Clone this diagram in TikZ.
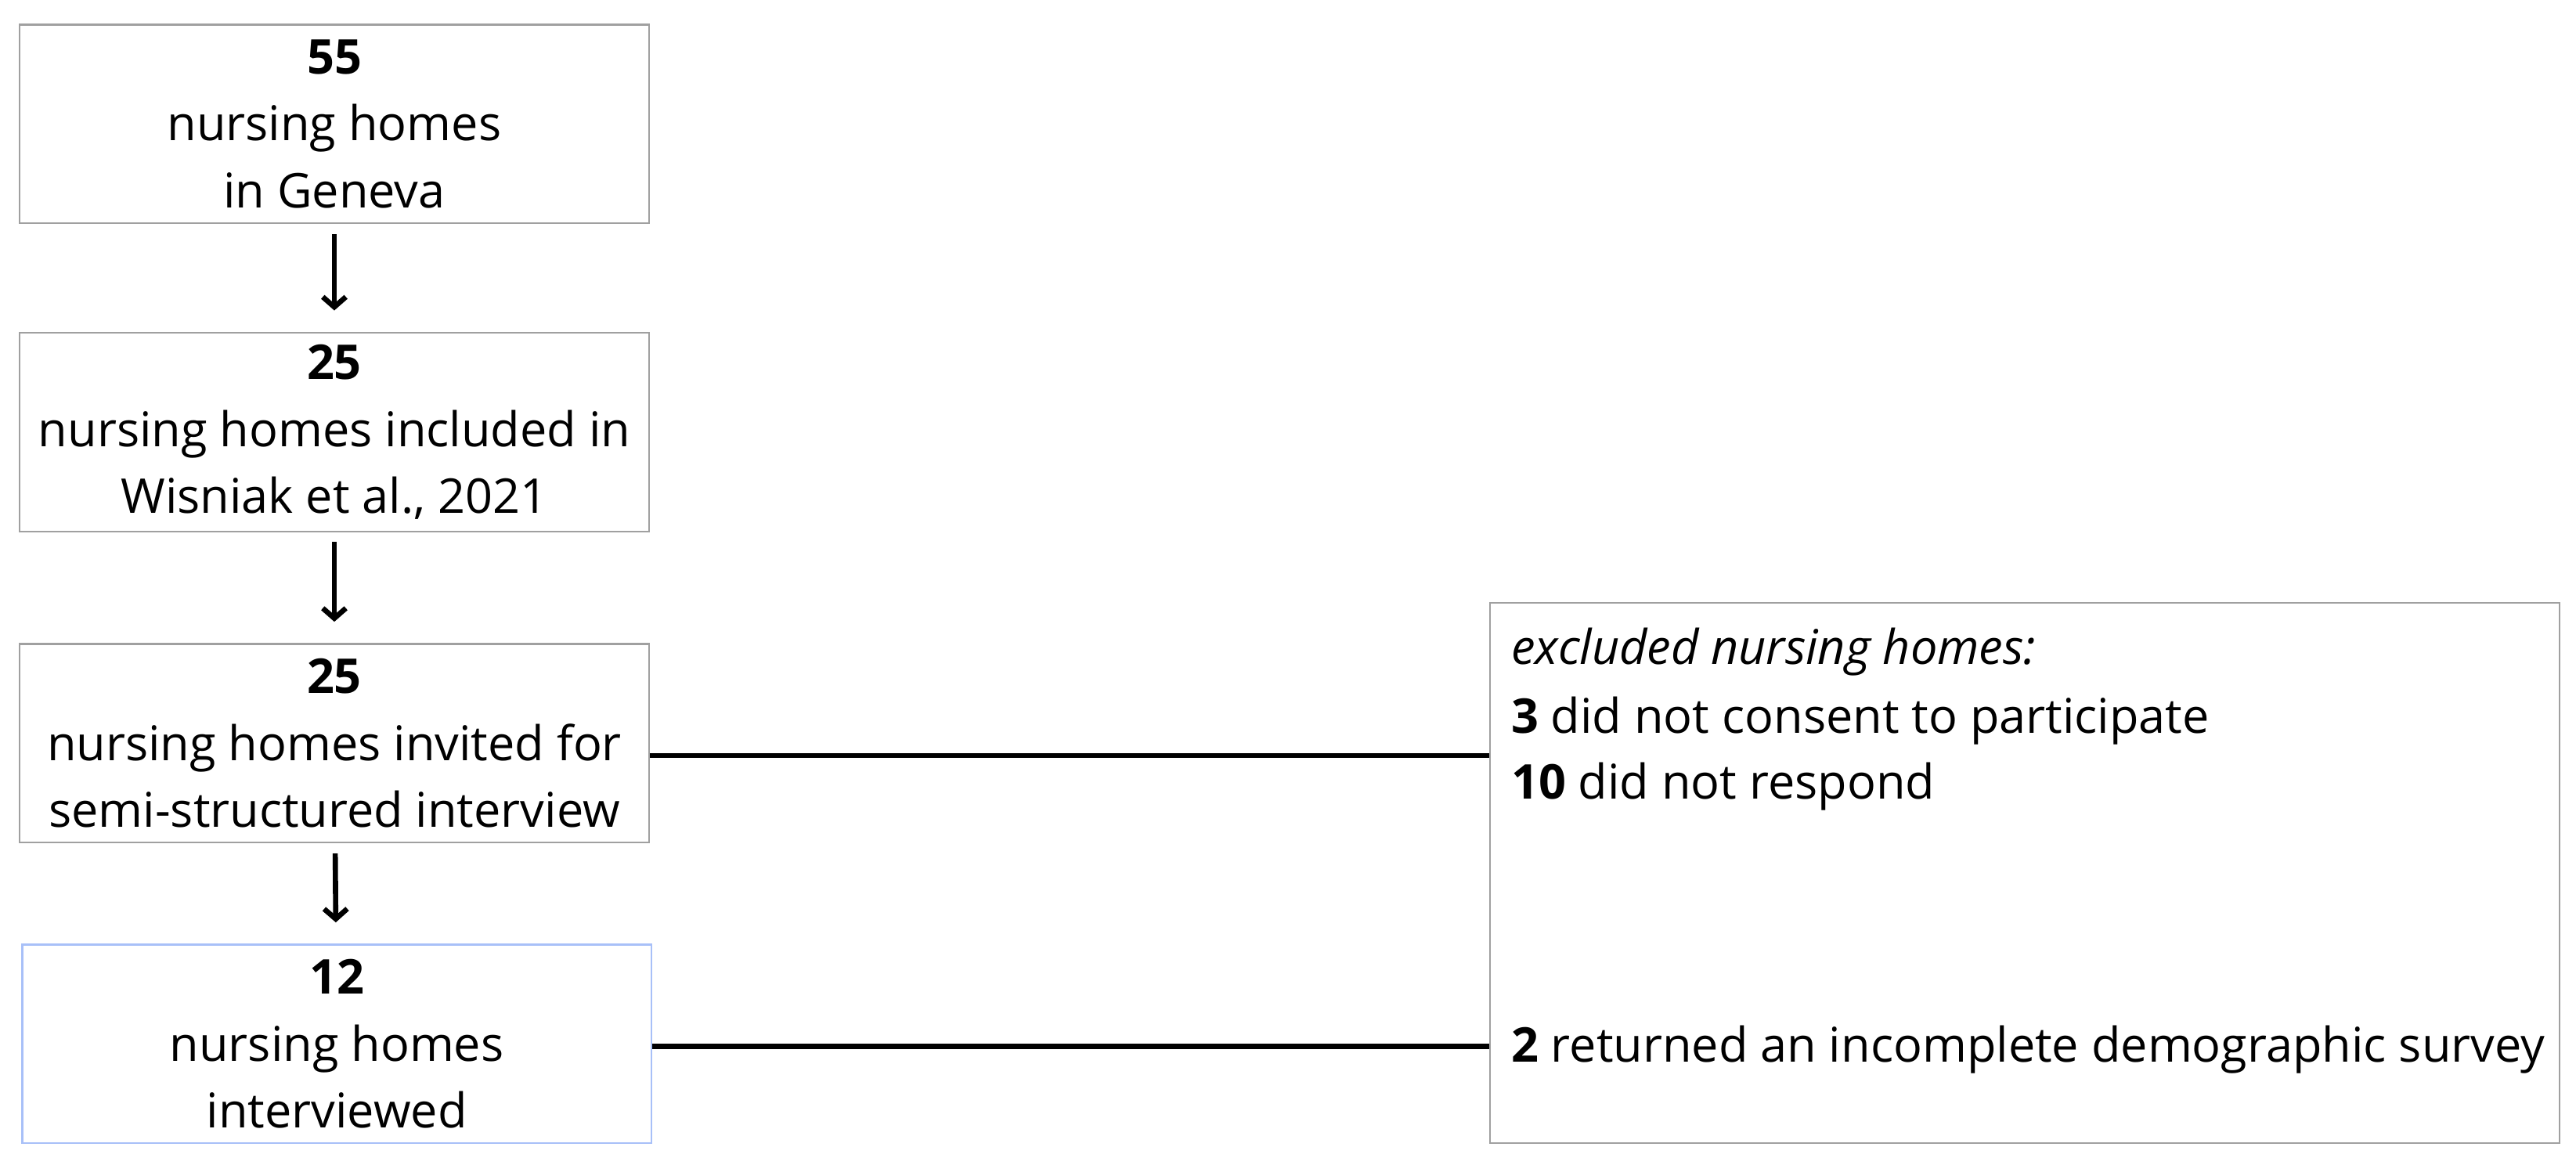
\documentclass[tikz,border=0pt]{standalone}
\usepackage{fontspec}
\setmainfont{Open Sans}
\usepackage{xcolor}
\usetikzlibrary{positioning,arrows.meta,calc}
\definecolor{boxgray}{RGB}{160,160,160}
\definecolor{boxblue}{RGB}{168,192,248}

\begin{document}
\begin{tikzpicture}[x=0.02cm,y=-0.02cm,
	every node/.style={font=\fontsize{16.6}{23.2}\selectfont},
	stagebox/.style={draw=boxgray,line width=0.6pt,minimum width=7.66cm,minimum height=2.42cm,inner sep=0pt,align=center},
	flowarrow/.style={-{Straight Barb[length=3.5pt,width=8pt]},line width=1.8pt,shorten <=0.12cm,shorten >=0.26cm},
	exclline/.style={-,line width=1.7pt}]
			\useasboundingbox (0,0) rectangle (1568,709);
			\node[stagebox] (geneva) at (203.5,75.5) {\textbf{55}\\nursing homes\\in Geneva};
			\node[stagebox] (wisniak) at (203.5,263) {\textbf{25}\\nursing homes included in\\Wisniak et al., 2021};
			\node[stagebox] (invited) at (203.5,452.5) {\textbf{25}\\nursing homes invited for\\semi-structured interview};
			\node[stagebox,draw=boxblue] (interviewed) at (205,635.5) {\textbf{12}\\nursing homes\\interviewed};
			\node[draw=boxgray,line width=0.6pt,minimum width=13.02cm,minimum height=6.58cm,inner sep=0pt] (excl) at (1232.5,531.5) {};
			\path[flowarrow](geneva) edge (wisniak);
			\path[flowarrow](wisniak) edge (invited);
			\path[flowarrow](invited) edge (interviewed);
			
			\node[anchor=base west,inner sep=0pt] (exhead) at ($(excl.north west)+(13,38)$) {\textit{excluded nursing homes:}};
			\node[anchor=base west,inner sep=0pt] (exconsent) at ($(excl.north west)+(13,80)$) {\textbf{3} did not consent to participate};
			\node[anchor=base west,inner sep=0pt] (exrespond) at ($(excl.north west)+(13,120)$) {\textbf{10} did not respond};
			\node[anchor=base west,inner sep=0pt] (exsurvey) at ($(excl.north west)+(13,280)$) {\textbf{2} returned an incomplete demographic survey};
			\draw[exclline] ([yshift=-0.15cm]invited.east) -- ([yshift=-0.15cm]invited.east -| excl.west);
			\draw[exclline] ([yshift=-0.03cm]interviewed.east) -- ([yshift=-0.03cm]interviewed.east -| excl.west);
\end{tikzpicture}
\end{document}
